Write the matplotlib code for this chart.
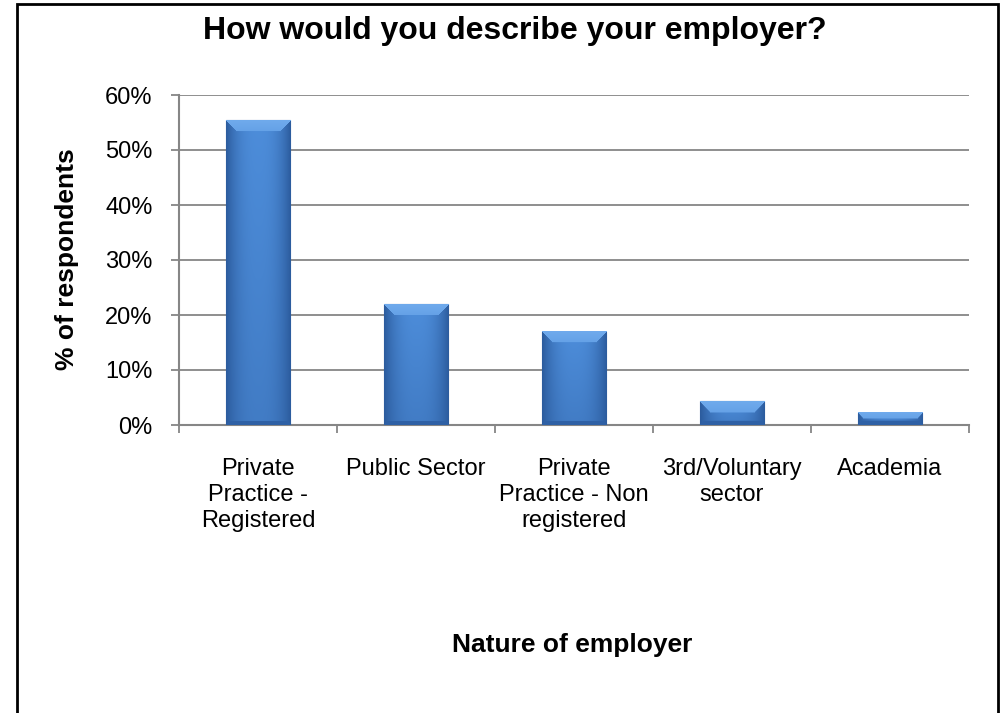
import numpy as np
import matplotlib.pyplot as plt
from matplotlib.patches import Rectangle

categories = ['Private\nPractice -\nRegistered', 'Public Sector',
              'Private\nPractice - Non\nregistered', '3rd/Voluntary\nsector', 'Academia']
shares = [55.4, 22.0, 17.0, 4.3, 2.2]
yticks = [0, 10, 20, 30, 40, 50, 60]

plt.rcParams['font.family'] = ['Liberation Sans', 'DejaVu Sans']

W, H = 1001, 713
fig = plt.figure(figsize=(W / 100, H / 100), dpi=100)
ax = fig.add_axes([179 / W, 1 - 425 / H, 790 / W, 330 / H])

x = np.arange(len(categories))
bars = ax.bar(x, shares, width=0.41, color='#3a72bb', edgecolor='#2b5a98',
              linewidth=0.8, zorder=4)
ax.set_xlim(-0.5, len(categories) - 0.5)
ax.set_ylim(0, 60)

# shaded "bevel" fill for each bar, built in pixel units
px_per_unit = 330 / 60
light = np.array([0x4d, 0x8d, 0xda]) / 255
dark = np.array([0x2c, 0x5c, 0x9e]) / 255
bevel_top = np.array([0x6f, 0xaa, 0xec]) / 255
for b in bars:
    x0, w, h = b.get_x(), b.get_width(), b.get_height()
    ny = max(int(h * px_per_unit), 2)
    nx = 65
    cx = np.linspace(0, 1, nx)
    cy = np.linspace(0, 1, ny)[:, None]
    horiz = 1 - np.abs(2 * cx - 1) ** 2.5
    vert = 1 - 0.35 * cy
    mix = (horiz[None, :] * vert)[..., None]
    img = dark + (light - dark) * mix
    bev = min(11, ny // 2)
    for r in range(bev):
        f = r / max(bev, 1)
        img[r, r:nx - r] = bevel_top * (1 - 0.3 * f) + light * 0.3 * f
    # slightly darker lip at the base
    lip = min(4, ny // 3)
    for r in range(lip):
        img[ny - 1 - r, r:nx - r] = dark * 1.05
    ax.imshow(np.clip(img, 0, 1), extent=(x0, x0 + w, 0, h), aspect='auto', zorder=4,
              interpolation='bilinear', clip_path=b, clip_on=True)
ax.set_xlim(-0.5, len(categories) - 0.5)
ax.set_ylim(0, 60)

grey = '#868686'
ax.set_yticks(yticks)
ax.set_yticklabels([f'{t}%' for t in yticks], fontsize=17)
ax.yaxis.grid(True, color=grey, linewidth=1.3)
ax.set_axisbelow(True)
ax.tick_params(axis='y', length=6, width=1.3, color=grey, pad=13)

ax.set_xticks(np.arange(len(categories) + 1) - 0.5)
ax.set_xticklabels([])
ax.tick_params(axis='x', which='major', length=6, width=1.3, color=grey)
ax.set_xticks(x, minor=True)
ax.set_xticklabels(categories, minor=True, fontsize=17, linespacing=1.22)
ax.tick_params(axis='x', which='minor', length=0, pad=24)

for s in ['top', 'right']:
    ax.spines[s].set_visible(False)
for s in ['left', 'bottom']:
    ax.spines[s].set_color(grey)
    ax.spines[s].set_linewidth(1.5)

fig.text(515 / W, 1 - 31 / H, 'How would you describe your employer?',
         ha='center', va='center', fontsize=23, fontweight='bold')
fig.text(67 / W, 1 - 259 / H, '% of respondents', rotation=90,
         ha='center', va='center', fontsize=19, fontweight='bold')
fig.text(572 / W, 1 - 645 / H, 'Nature of employer',
         ha='center', va='center', fontsize=19, fontweight='bold')

fig.patches.append(Rectangle((17 / W, -0.05), 981 / W, 1.05 - 4 / H,
                             transform=fig.transFigure, fill=False,
                             edgecolor='black', linewidth=2))

fig.savefig('out.png', dpi=100)
